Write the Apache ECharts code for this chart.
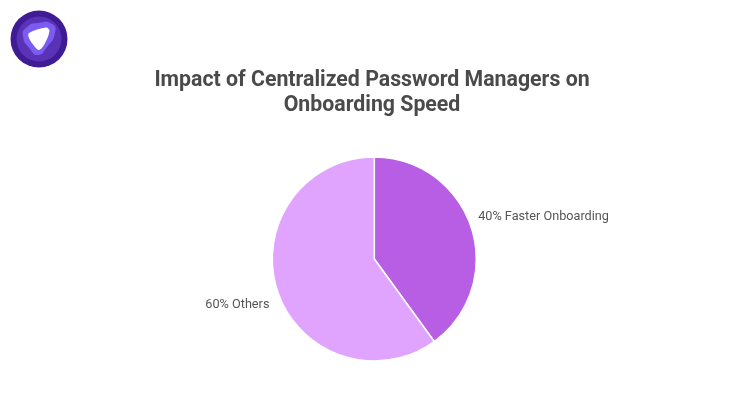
<!DOCTYPE html>
<html><head><meta charset="utf-8">
<style>html,body{margin:0;padding:0;background:#fff}#c{width:740px;height:420px}</style>
<script src="https://cdn.jsdelivr.net/npm/echarts@6/dist/echarts.min.js"></script>
</head><body><div id="c"></div>
<script>
const categories = ['Faster Onboarding', 'Others'];
const values = [40, 60];
const colors = ['#b85ee4', '#e0a4ff'];
const titleText = 'Impact of Centralized Password Managers on\nOnboarding Speed';
const labelShiftX = [-1, 0];
const labelShiftY = [-10, 13];
const chart = echarts.init(document.getElementById('c'), null, {renderer:'canvas'});
chart.setOption({
  backgroundColor:'#fff',
  animation:false,
  title:{text:titleText,left:367,top:63,textAlign:'center',
    textStyle:{fontFamily:'Roboto',fontSize:21.3,fontWeight:'bold',color:'#4a4a4a',lineHeight:25}},
  graphic:[
    {type:'circle',shape:{cx:39,cy:39,r:28.5},style:{fill:'#3f1c96'}},
    {type:'circle',shape:{cx:39,cy:39,r:22.5},style:{fill:'#5a32b8'}},
    {type:'polygon',shape:{smooth:0.6,points:[[38,23],[52,24],[55,33],[47,47],[38,55],[30,49],[23,36],[27,27]]},style:{fill:'#7b5cf0'}},
    {type:'polygon',shape:{smooth:0.35,points:[[29,33],[46,27.5],[49.5,31],[44,45],[39,50],[35,47],[29,38]]},style:{fill:'#fff'}}
  ],
  series:[{
    type:'pie',center:[374.3,259],radius:[0,102],startAngle:90,clockwise:true,
    data:categories.map((n,i)=>({name:n,value:values[i],itemStyle:{color:colors[i]}})),
    itemStyle:{borderColor:'#fff',borderWidth:1.5},
    label:{show:true,position:'outside',formatter:p=>p.value+'% '+p.name,
      fontFamily:'Roboto',fontSize:12.7,color:'#555'},
    labelLine:{show:false,length:3,length2:0},
    labelLayout:p=>({dx:labelShiftX[p.dataIndex],dy:labelShiftY[p.dataIndex]}),
    emphasis:{disabled:true}
  }]
});
</script></body></html>
